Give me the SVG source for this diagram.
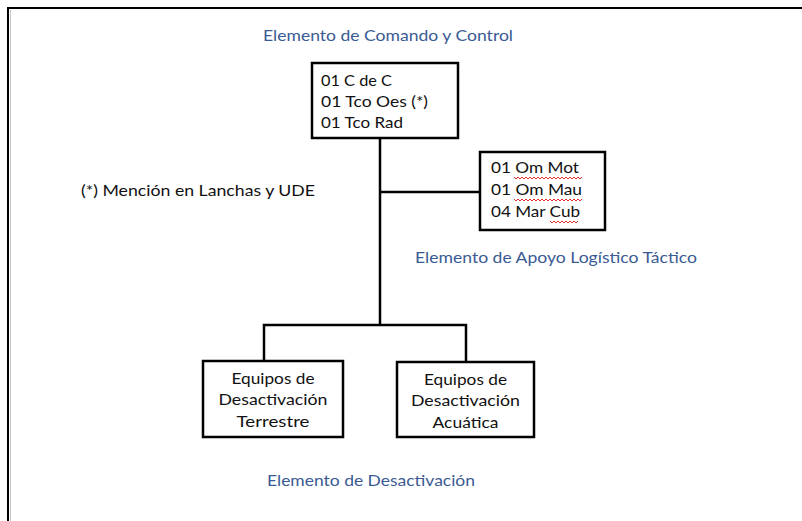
<svg xmlns="http://www.w3.org/2000/svg" width="802" height="521" viewBox="0 0 802 521">
  <style>
    .box { fill: #ffffff; stroke: #000000; stroke-width: 2.5; }
    .wire { fill: none; stroke: #000000; stroke-width: 2.5; }
    .t { font-family: Lato, "Open Sans", "Liberation Sans", sans-serif; font-size: 16px; fill: #111111; }
    .lbl { font-family: Lato, "Open Sans", "Liberation Sans", sans-serif; font-size: 16px; fill: #3A5B94; }
    .sq { fill: none; stroke: #e03030; stroke-width: 1; }
  </style>
  <rect x="0" y="0" width="802" height="521" fill="#ffffff"/>
  <g id="frame">
    <path d="M8,521 V8 H802" fill="none" stroke="#000000" stroke-width="2"/>
    <line x1="10.5" y1="10" x2="10.5" y2="521" stroke="#c8c8c8" stroke-width="1"/>
  </g>

  <g id="connectors">
    <path class="wire" d="M380,138 V325"/>
    <path class="wire" d="M380,192 H480"/>
    <path class="wire" d="M264,361 V325 H466 V361"/>
  </g>

  <g id="label-comando">
    <text class="lbl" x="263" y="41" textLength="250" lengthAdjust="spacingAndGlyphs">Elemento de Comando y Control</text>
  </g>

  <g id="node-comando">
    <rect class="box" x="312" y="63" width="146" height="75"/>
    <text class="t" x="321" y="86" textLength="71" lengthAdjust="spacingAndGlyphs">01 C de C</text>
    <text class="t" x="321" y="107" textLength="107" lengthAdjust="spacingAndGlyphs">01 Tco Oes (*)</text>
    <text class="t" x="321" y="128" textLength="82" lengthAdjust="spacingAndGlyphs">01 Tco Rad</text>
  </g>

  <g id="note">
    <text class="t" x="81" y="196" textLength="234" lengthAdjust="spacingAndGlyphs">(*) Mención en Lanchas y UDE</text>
  </g>

  <g id="node-apoyo">
    <rect class="box" x="480" y="152" width="125" height="78"/>
    <text class="t" x="491" y="173" textLength="88" lengthAdjust="spacingAndGlyphs">01 Om Mot</text>
    <text class="t" x="491" y="195" textLength="91" lengthAdjust="spacingAndGlyphs">01 Om Mau</text>
    <text class="t" x="491" y="217" textLength="89" lengthAdjust="spacingAndGlyphs">04 Mar Cub</text>
    <path class="sq" d="M514,177 l2,2 l2,-2 l2,2 l2,-2 l2,2 l2,-2 l2,2 l2,-2 l2,2 l2,-2 l2,2 l2,-2 l2,2 l2,-2 l2,2 l2,-2 l2,2 l2,-2 l2,2 l2,-2 l2,2 l2,-2 l2,2 l2,-2 l2,2 l2,-2 l2,2 l2,-2 l2,2 l2,-2 l2,2 l2,-2 l2,2 l2,-2"/>
    <path class="sq" d="M514,199 l2,2 l2,-2 l2,2 l2,-2 l2,2 l2,-2 l2,2 l2,-2 l2,2 l2,-2 l2,2 l2,-2 l2,2 l2,-2 l2,2 l2,-2 l2,2 l2,-2 l2,2 l2,-2 l2,2 l2,-2 l2,2 l2,-2 l2,2 l2,-2 l2,2 l2,-2 l2,2 l2,-2 l2,2 l2,-2 l2,2 l2,-2"/>
    <path class="sq" d="M550,221 l2,2 l2,-2 l2,2 l2,-2 l2,2 l2,-2 l2,2 l2,-2 l2,2 l2,-2 l2,2 l2,-2 l2,2 l2,-2"/>
  </g>

  <g id="label-apoyo">
    <text class="lbl" x="415" y="263" textLength="282" lengthAdjust="spacingAndGlyphs">Elemento de Apoyo Logístico Táctico</text>
  </g>

  <g id="node-terrestre">
    <rect class="box" x="203" y="361" width="140" height="76"/>
    <text class="t" x="273" y="384" text-anchor="middle" textLength="83" lengthAdjust="spacingAndGlyphs">Equipos de</text>
    <text class="t" x="273" y="405" text-anchor="middle" textLength="109" lengthAdjust="spacingAndGlyphs">Desactivación</text>
    <text class="t" x="273" y="427" text-anchor="middle" textLength="73" lengthAdjust="spacingAndGlyphs">Terrestre</text>
  </g>

  <g id="node-acuatica">
    <rect class="box" x="397" y="362" width="137" height="75"/>
    <text class="t" x="465.5" y="385" text-anchor="middle" textLength="83" lengthAdjust="spacingAndGlyphs">Equipos de</text>
    <text class="t" x="465.5" y="406" text-anchor="middle" textLength="109" lengthAdjust="spacingAndGlyphs">Desactivación</text>
    <text class="t" x="465.5" y="428" text-anchor="middle" textLength="66" lengthAdjust="spacingAndGlyphs">Acuática</text>
  </g>

  <g id="label-desactivacion">
    <text class="lbl" x="267" y="486" textLength="208" lengthAdjust="spacingAndGlyphs">Elemento de Desactivación</text>
  </g>
</svg>
